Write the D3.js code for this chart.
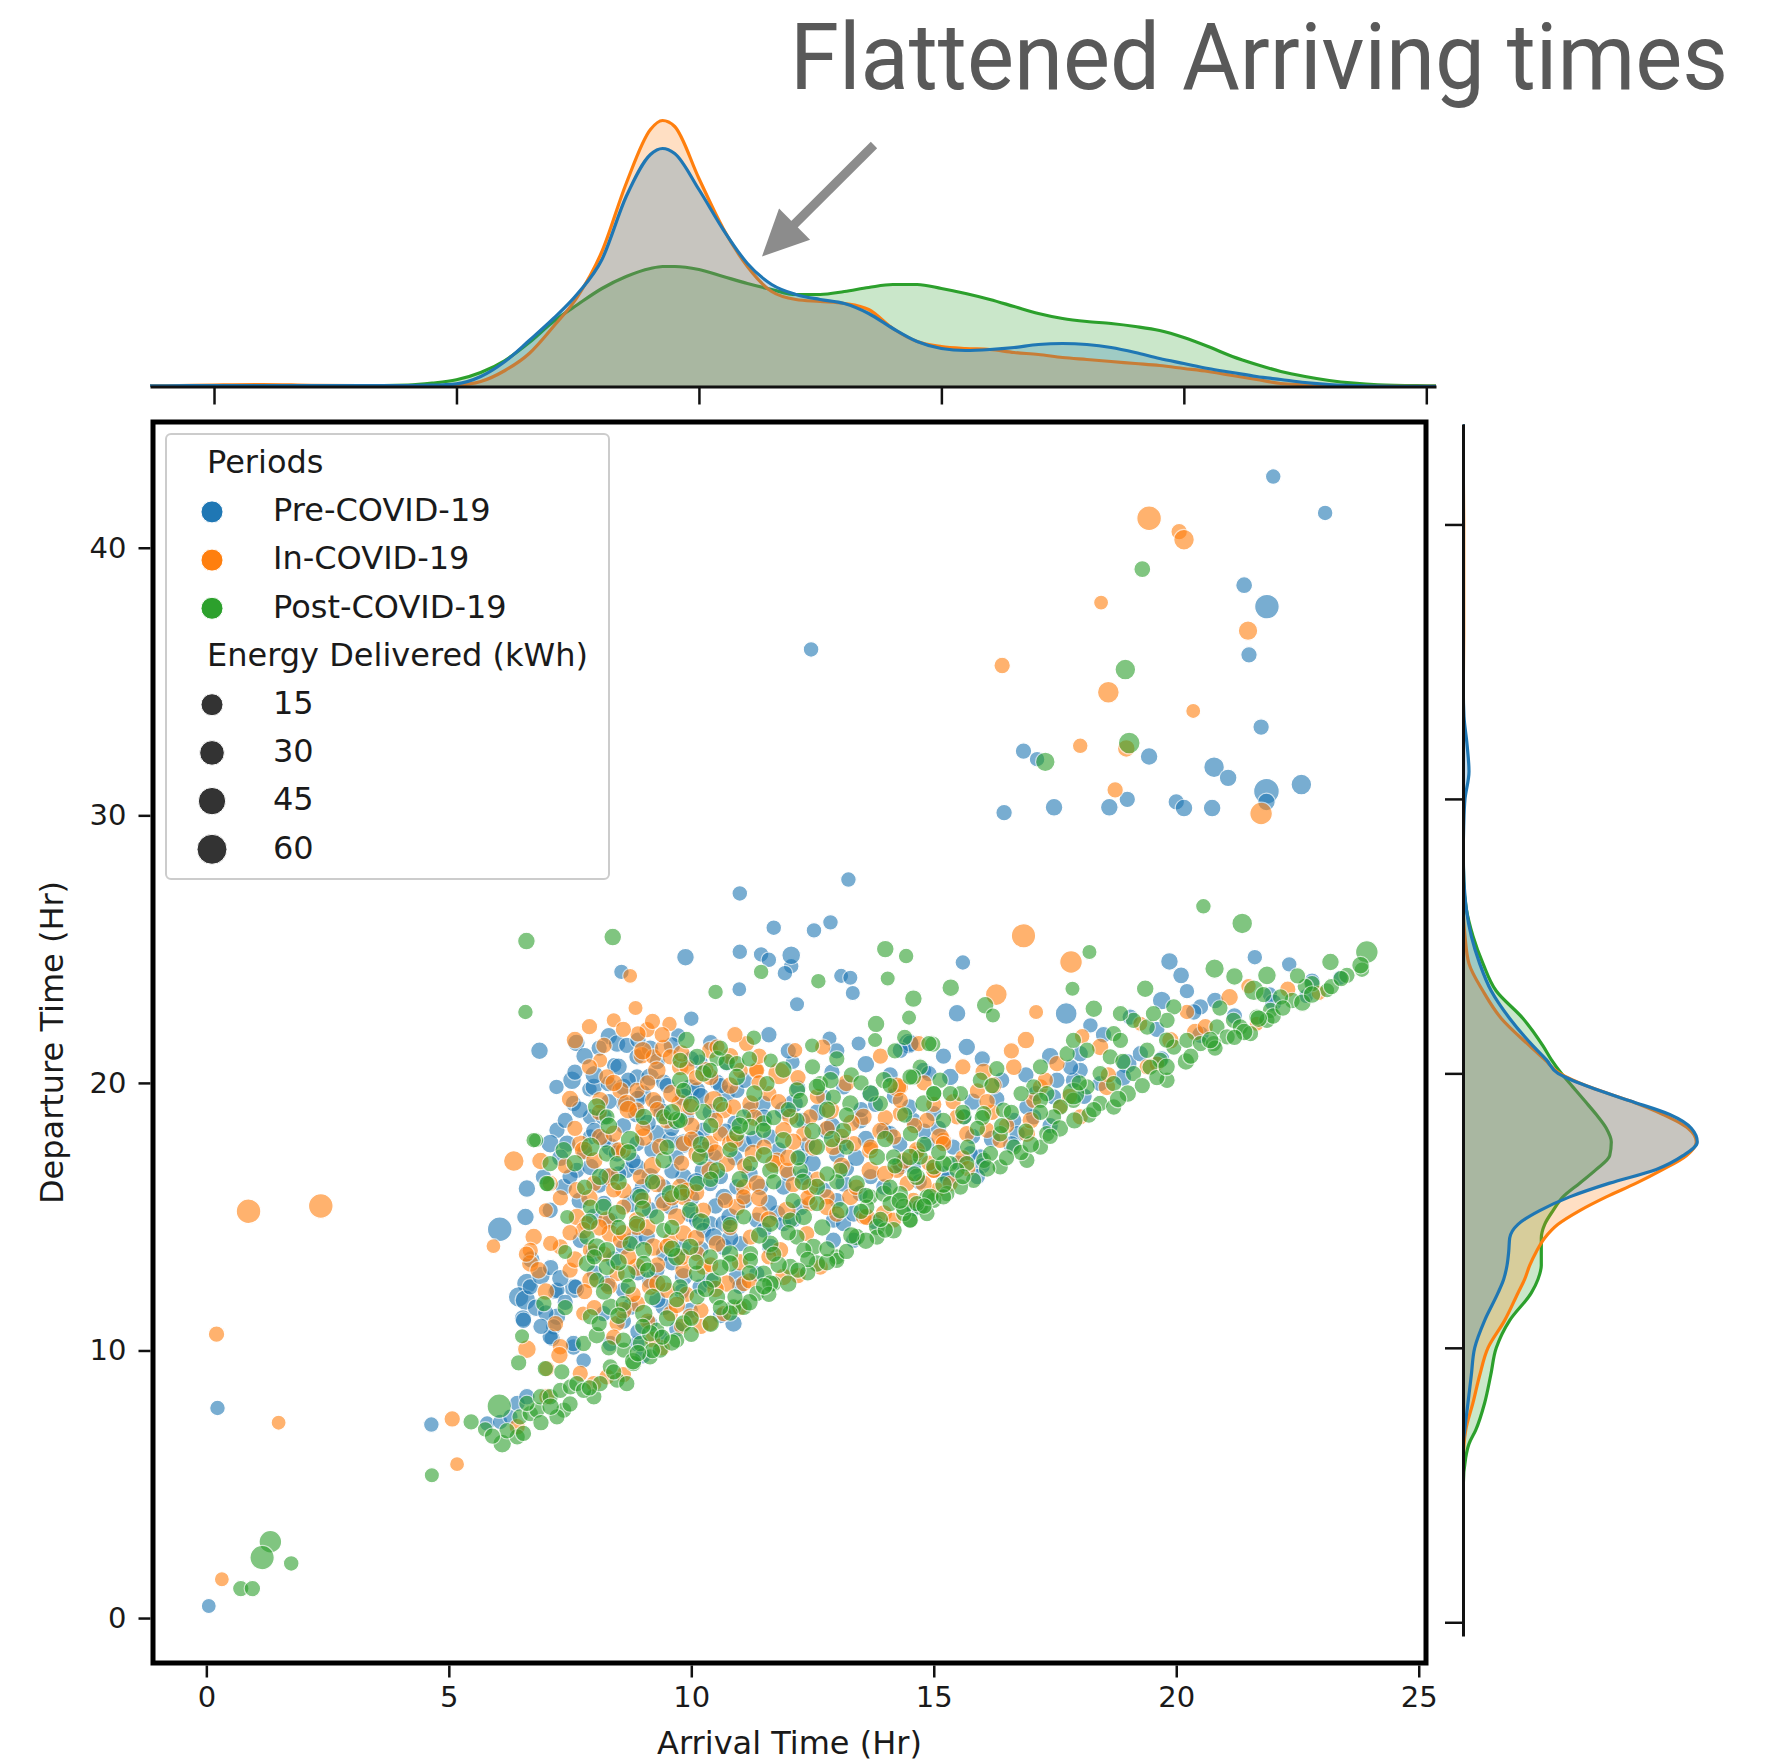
<!DOCTYPE html>
<html>
<head>
<meta charset="utf-8">
<script src="https://cdn.jsdelivr.net/npm/d3@7"></script>
<style>
  body { margin: 0; background: #fff; }
  svg { display: block; }
</style>
</head>
<body>
<script>
// ---- data ----
const periods = ["Pre-COVID-19", "In-COVID-19", "Post-COVID-19"];
const periodColors = ["#1f77b4", "#ff7f0e", "#2ca02c"];
const sizeLegendValues = [15, 30, 45, 60];
const xTickValues = [0, 5, 10, 15, 20, 25];
const yTickValues = [0, 10, 20, 30, 40];
const titleText = "Flattened Arriving times";

// [arrival hr, departure hr, energy kWh]
const prePoints = [
  [0.05,0.45,5],[0.23,7.85,8],[4.64,7.23,8],
  [22.0,42.66,8],[23.07,41.3,8],[21.4,38.6,14],[21.87,37.8,62],[21.5,36.0,12],[21.75,33.3,12],[16.85,32.4,12],
  [17.13,32.1,8],[19.44,32.2,18],[20.78,31.8,35],[21.07,31.4,18],[21.86,30.9,70],[22.58,31.15,35],[18.99,30.6,12],
  [16.45,30.1,12],[17.48,30.3,18],[18.62,30.3,18],[20.0,30.5,12],[20.16,30.27,18],[20.74,30.27,18],[21.86,30.5,18],
  [12.47,36.2,8],[11.0,27.08,8],[13.24,27.6,8],[11.7,25.8,8],[12.53,25.7,8],[12.87,26.0,8],[12.06,24.36,8],
  [9.88,24.7,18],[11.0,24.9,8],[11.44,24.8,8],[11.6,24.6,8],[12.06,24.77,24],[11.93,24.1,8],[8.56,24.15,8],
  [10.99,23.5,5],[13.09,24.0,6],[13.28,23.93,6],[13.33,23.36,6],[12.18,22.94,6],[15.6,24.5,8],[15.48,22.6,18],
  [12.85,21.66,6],[13.45,21.47,6],[14.48,21.47,35],[10.0,22.4,8],[9.73,21.78,6],[8.3,21.74,18],[7.63,21.49,18],
  [6.87,21.2,18],[12.09,20.78,6],[7.54,20.1,24],[7.22,19.85,8],[7.9,19.76,8],[7.57,19.23,12],[8.41,20.66,8],
  [6.61,16.05,18],[6.58,14.99,18],[6.05,14.53,62],[6.61,12.5,35],[6.44,12.0,35],[6.58,11.88,35],[7.2,12.19,8],
  [7.59,12.32,35],[7.23,11.26,18],[6.53,11.2,18],[6.68,12.38,12],[7.23,12.25,12],[7.61,12.38,8],[6.54,11.13,12],
  [7.16,10.88,12],[7.13,10.45,12],[7.57,10.13,12],[7.78,9.63,8],[5.79,7.27,8],[6.06,7.33,8],[6.27,7.52,8],
  [6.41,8.02,12],[6.61,8.27,12],
  [19.86,24.54,18],[20.1,24.02,14],[20.22,23.43,8],[19.7,23.08,24],[21.62,24.7,8],[22.33,24.43,8],[21.93,23.3,8],
  [23.38,23.93,6],[22.68,23.25,6],[20.8,23.08,14],[20.5,22.84,12],[20.36,22.65,12],[19.05,22.46,12],[18.98,20.72,35],
  [19.26,21.09,12],[18.43,19.97,12],[18.02,20.47,12],[17.88,20.1,12],[17.47,19.48,12],[17.06,18.73,12],[16.65,18.6,12],
  [16.92,19.1,12],[16.72,18.1,12],[18.02,21.09,12],[17.82,20.59,12],[17.54,20.1,12],[15.68,21.34,18],[15.34,20.22,18],
  [14.79,20.47,12],[14.9,20.35,12],[14.52,21.47,18],[14.31,21.22,12],[15.0,18.85,12],[15.62,18.73,12],[14.58,18.6,12],
  [14.31,16.86,12],[14.58,16.86,12],[15.2,16.61,12],[15.96,17.23,12],[15.75,17.36,12],[17.73,22.59,42],[18.23,22.15,8],
  [8.47,21.47,18],[8.67,21.4,12],[8.88,20.97,12],[9.15,21.28,18],[10.18,20.78,12],[10.73,20.72,8],
  [7.99,19.85,18],[8.29,19.97,12],[8.6,19.85,18],[8.88,20.22,12],[9.15,20.22,24],[9.43,20.03,12],[9.98,19.79,30],
  [10.12,19.72,18],[10.53,20.03,12],[10.73,19.6,18],[10.94,19.72,12],
  [7.92,18.73,12],[8.19,18.73,18],[8.6,19.23,12],[8.88,18.85,24],[9.29,19.23,18],[9.84,19.47,24],[11.22,18.98,18],
  [11.49,19.23,12],[11.9,18.98,24],[12.11,19.23,30],[12.73,19.47,12],[13.14,19.85,12],[13.69,19.6,18],
  [7.23,18.23,12],[7.09,17.73,24],[7.44,17.73,18],[7.92,17.98,12],[8.33,17.61,24],[8.47,17.36,18],[8.88,17.73,12],
  [9.29,18.1,24],[9.57,17.86,18],[9.84,17.73,30],[10.25,18.23,12],[10.46,17.23,18],[11.08,17.73,18],[11.63,17.98,12],
  [12.25,17.23,18],[12.8,18.23,24],[13.14,17.73,12],[13.48,18.6,18],[13.97,18.23,12],[14.1,18.1,12],[14.86,17.73,12],
  [6.95,16.49,12],[7.37,16.11,18],[7.64,16.73,12],[7.92,16.86,18],[8.26,16.49,24],[8.67,16.73,12],[8.88,16.86,18],
  [9.15,16.49,24],[9.43,16.11,12],[9.84,16.49,18],[10.25,16.73,24],[10.39,16.24,12],[10.67,15.74,18],[10.94,16.11,12],
  [11.42,16.11,18],[11.9,16.11,12],[12.32,16.49,18],[12.73,15.99,12],[13.14,16.24,18],[13.48,15.86,12],[13.97,16.11,12],
  [14.31,16.98,18],
  [7.09,15.24,12],[7.99,14.99,18],[8.33,14.87,12],[8.74,15.49,24],[9.15,15.24,18],[9.57,15.36,12],[9.98,15.12,24],
  [10.12,14.87,18],[10.39,14.74,12],[10.67,14.74,18],[10.8,14.99,24],[11.35,14.87,12],[11.77,15.12,18],[11.9,14.74,12],
  [12.25,15.36,18],[12.93,14.87,12],[13.14,14.74,12],[13.35,15.12,18],
  [7.71,14.12,12],[7.99,13.62,18],[8.6,13.87,12],[8.81,14.12,24],[9.08,14.24,18],[9.43,13.62,12],[9.84,13.87,18],
  [10.25,14.49,12],[10.46,14.24,24],[10.67,13.87,18],[11.01,13.99,12],[11.63,13.87,18],[12.93,14.12,12],[13.35,14.12,12],
  [8.26,12.5,18],[8.6,12.25,12],[9.15,12.63,18],[9.29,13.0,12],[9.84,12.75,24],[10.18,12.38,12],[10.94,12.75,18],
  [11.35,12.87,12],
  [8.19,11.38,12],[8.74,11.63,18],[9.15,11.01,12],[9.43,11.63,18],[9.98,11.5,12],[10.87,11.01,18],
  [7.09,10.51,12],[7.57,10.26,12],[8.33,10.26,12],[8.88,10.26,12],[9.36,10.51,8],[9.0,9.8,12],[10.6,11.3,12],
  [7.8,21.0,18],[8.1,21.3,12],[8.5,20.6,18],[8.9,21.6,12],[9.3,20.8,12],[9.6,21.4,18],[10.0,20.9,12],[10.4,21.5,12],
  [7.6,20.4,12],[8.0,20.3,24],[8.7,20.1,12],[9.0,19.6,18],[9.5,19.9,12],[10.2,19.5,18],[10.6,19.9,12],[11.1,20.1,12],
  [7.7,19.0,18],[8.3,19.3,12],[8.9,19.4,18],[9.4,18.9,24],[9.9,18.7,12],[10.4,18.9,18],[10.9,18.5,12],[11.5,18.7,18],
  [7.4,18.6,12],[8.0,18.2,18],[8.6,18.4,12],[9.1,18.5,18],[9.6,18.3,12],[10.1,17.9,24],[10.7,18.2,12],[11.3,17.9,18],
  [7.3,17.2,18],[7.8,17.4,12],[8.2,17.9,18],[8.8,17.1,12],[9.2,17.5,18],[9.7,17.2,12],[10.3,17.5,18],[10.9,17.2,12],
  [7.5,16.5,12],[8.1,16.2,18],[8.5,16.6,12],[9.0,16.1,18],[9.6,16.7,12],[10.1,16.3,24],[10.6,16.5,12],[11.2,16.6,18],
  [7.7,15.6,18],[8.2,15.5,12],[8.9,15.8,18],[9.4,15.6,12],[10.0,15.7,18],[10.5,15.4,12],[11.1,15.6,12],[11.6,15.5,18],
  [12.0,16.6,12],[12.5,17.0,18],[13.0,17.3,12],[13.6,17.9,18],[12.3,18.6,12],[12.9,18.4,18],[11.8,17.5,12],[13.2,16.8,12],
  [6.7,13.4,18],[6.9,12.8,24],[7.1,13.1,12],[6.8,11.6,18],[7.4,11.8,12],[7.0,11.4,12],[7.3,12.7,18],[6.9,10.9,12],
  [8.0,12.9,12],[8.4,13.4,18],[8.9,12.9,12],[9.6,13.3,18],[10.2,13.8,12],[10.8,14.2,18],[11.5,14.5,12],[12.1,14.9,18],
  [8.6,11.1,12],[9.3,11.9,18],[9.8,12.2,12],[10.4,12.6,18],[11.0,12.4,12],[8.9,10.7,12],[9.7,10.8,12],
  [13.8,14.8,12],[14.6,15.3,12],[15.3,16.4,18],[16.0,16.9,12],[16.6,17.7,18],[17.4,18.4,12],[18.1,19.5,12],[18.9,20.2,18],
  [19.7,20.9,12],[20.5,21.8,18],[21.2,22.5,12],[22.0,23.0,18],[22.8,23.8,12],[15.8,18.0,12],[16.3,19.4,12],[16.9,20.3,12],
  [17.4,21.0,18],[18.5,21.8,12],[19.6,22.0,12],[13.5,19.0,12],[14.2,19.5,18],[14.8,18.2,12],[15.4,17.6,12],[15.9,16.5,12],
  [12.2,19.8,12],[12.9,20.4,12],[13.6,20.7,18],[14.1,20.3,12],[12.6,18.9,18],[13.8,19.2,12],[14.5,19.1,12],[12.4,17.7,12],
  [13.4,17.2,18],[14.3,17.7,12],[15.1,18.3,12],[15.8,19.3,18],[16.4,20.1,12],[13.0,15.6,12],[13.7,16.5,12],[14.7,16.3,12],
  [15.5,17.0,12],[16.2,17.9,18],[17.1,19.6,12],[16.0,20.9,12],[15.2,21.0,12],[12.0,21.2,12],[11.6,21.8,12],[13.0,21.2,12]
];

const inPoints = [
  [0.87,15.2,62],[2.36,15.4,62],[0.21,10.61,12],[1.49,7.3,5],[0.32,1.45,5],[5.07,7.44,12],[5.17,5.75,5],
  [19.44,41.1,62],[20.06,40.6,12],[20.16,40.3,35],[18.45,37.95,5],[21.48,36.9,28],[16.41,35.6,12],[18.6,34.6,42],
  [20.35,33.9,5],[18.02,32.6,8],[18.97,32.5,18],[18.74,30.95,12],[21.75,30.07,48],[16.85,25.5,60],[17.83,24.52,48],
  [16.29,23.3,42],[17.11,22.65,6],[18.06,21.74,8],[21.49,23.61,8],[22.94,23.36,6],[20.22,22.65,8],[20.39,21.9,18],
  [21.66,22.21,6],[19.26,22.21,6],[18.43,21.34,18],[19.6,20.72,8],[19.88,21.59,18],[18.57,19.85,18],[17.61,19.1,8],
  [18.02,18.73,12],[16.92,18.1,18],[17.2,19.85,12],[17.06,19.35,12],[17.54,20.72,12],[16.65,20.59,14],[16.03,20.41,18],
  [16.23,19.91,18],[14.31,19.85,12],[14.31,18.85,12],[14.69,21.47,12],[15.48,18.73,12],[14.86,18.6,12],[15.2,17.85,12],
  [15.68,18.1,12],[16.1,18.23,12],[16.37,17.85,12],[15.0,16.73,12],[14.45,16.24,12],[14.58,15.61,12],[15.07,15.99,12],
  [15.34,16.24,12],[14.65,17.36,12],
  [8.74,24.0,5],[8.85,22.8,6],[8.4,22.34,6],[9.55,22.2,8],[9.09,21.99,12],[8.9,21.83,12],[11.14,21.47,12],
  [12.14,21.22,8],[12.71,21.34,12],[8.12,20.84,6],[11.81,20.35,48],[11.33,20.47,12],[6.34,17.08,35],[6.89,17.08,18],
  [5.92,13.9,5],[7.0,15.24,6],[6.75,14.24,18],[6.68,13.74,12],[6.68,13.25,18],[6.85,13.0,18],[7.77,11.38,6],
  [6.61,10.05,24],[7.3,10.14,12],[7.28,9.82,18],[7.02,9.32,12],[6.41,7.15,12],[7.02,8.27,12],[7.71,9.14,12],
  [7.99,8.76,12],[8.26,9.01,12],[8.6,9.1,12],[9.4,10.1,12],[10.2,10.9,12],[11.0,11.6,12],[12.2,12.8,12],
  [8.98,21.03,18],[9.22,20.97,12],[9.43,21.28,24],[9.57,20.97,12],[10.39,21.22,18],[10.53,21.34,12],
  [8.26,20.22,12],[8.54,19.72,18],[8.88,19.72,12],[9.29,20.47,24],[9.77,20.59,18],[9.91,20.59,12],[10.39,20.22,18],
  [11.01,20.47,12],[11.35,20.47,12],
  [8.12,19.35,18],[8.67,19.23,24],[8.88,18.98,12],[9.22,19.35,18],[9.77,19.23,24],[9.98,19.1,18],[10.46,19.35,30],
  [10.67,18.98,18],[10.87,19.1,12],[11.22,19.23,18],[12.04,18.73,18],[12.45,18.73,12],[12.87,18.98,24],[13.55,18.73,18],
  [14.24,19.85,30],[14.31,19.35,12],
  [7.71,17.73,18],[7.78,17.48,24],[8.12,17.98,18],[8.6,17.48,12],[9.02,17.98,24],[9.36,17.61,18],[9.84,17.73,12],
  [10.12,17.36,24],[10.39,17.73,18],[10.6,18.1,12],[10.8,17.73,18],[11.28,17.36,24],[11.77,17.11,12],[11.9,18.23,18],
  [12.32,18.1,12],[12.52,17.61,24],[12.93,17.61,18],[13.35,17.73,12],[13.69,17.48,18],[14.17,17.98,12],[14.65,17.48,18],
  [15.13,17.98,24],[15.2,17.73,12],
  [7.09,16.24,12],[7.64,15.99,18],[7.99,16.24,12],[8.33,16.49,24],[8.6,15.99,18],[8.95,16.49,12],[9.29,16.24,24],
  [9.77,16.11,18],[9.91,15.99,12],[10.39,16.73,24],[10.73,16.98,18],[11.08,16.11,12],[11.35,16.24,18],[11.7,16.98,24],
  [11.97,16.73,12],[12.45,16.11,18],[12.8,15.74,12],[13.28,15.74,18],[13.69,16.73,24],[14.24,16.73,12],[14.79,16.24,18],
  [15.0,16.73,12],
  [7.64,14.99,18],[7.85,14.74,12],[8.26,14.87,24],[8.6,15.36,12],[8.88,14.87,18],[9.43,15.49,12],[9.7,14.99,24],
  [9.84,15.74,18],[10.25,15.24,12],[10.94,15.36,18],[11.08,15.74,12],[11.42,15.12,18],[11.97,15.24,24],[12.45,15.49,12],
  [12.8,15.36,18],[13.55,14.99,12],[13.97,15.12,18],[14.17,14.87,12],
  [7.3,13.87,12],[7.78,14.49,18],[7.92,13.75,12],[8.33,14.37,24],[8.54,14.12,12],[8.88,14.62,18],[9.22,13.87,24],
  [9.57,14.12,12],[9.84,14.37,18],[10.12,13.62,12],[10.53,13.99,18],[11.22,14.24,12],[11.83,13.75,18],[12.38,14.37,12],
  [13.62,14.99,18],
  [7.5,13.0,12],[7.92,12.63,18],[8.47,12.87,12],[8.88,13.12,24],[9.15,12.38,18],[9.5,12.25,12],[9.84,13.0,18],
  [10.25,13.12,12],[10.73,12.5,18],[11.08,12.5,12],[11.9,12.75,18],[12.66,13.12,12],
  [8.47,11.01,12],[8.88,11.75,18],[9.57,11.38,12],[9.98,11.26,18],[10.39,11.01,12],[10.67,11.38,12],
  [7.6,21.6,18],[8.2,21.4,12],[8.6,22.0,12],[9.0,21.2,24],[9.4,21.8,12],[9.8,21.1,18],[10.3,20.5,12],[10.8,21.0,18],[11.4,21.0,12],
  [7.9,20.6,12],[8.4,20.0,18],[9.1,20.0,12],[9.6,19.6,24],[10.1,20.2,12],[10.8,19.9,18],[11.6,19.6,12],[12.2,20.2,12],
  [7.5,19.4,18],[8.1,18.9,12],[8.7,19.0,24],[9.3,19.0,12],[10.0,18.4,18],[10.5,18.6,12],[11.3,18.7,18],[11.8,19.3,12],
  [7.6,18.3,12],[8.4,18.1,18],[9.0,18.3,12],[9.5,18.6,18],[10.0,17.9,12],[10.9,17.9,24],[11.5,17.6,12],[12.1,17.8,18],
  [7.4,16.9,12],[8.0,17.1,18],[8.5,17.5,12],[9.2,16.9,24],[9.8,17.0,12],[10.5,17.4,18],[11.1,16.9,12],[12.0,17.2,18],
  [7.3,15.7,12],[7.9,15.7,18],[8.4,16.0,12],[9.0,15.6,18],[9.6,15.7,12],[10.1,15.9,18],[10.7,15.6,12],[11.4,15.7,18],
  [7.5,14.4,12],[8.1,14.6,18],[8.6,14.4,12],[9.1,14.6,18],[9.5,13.9,12],[10.1,14.2,18],[10.8,14.6,12],[11.6,14.9,18],
  [7.6,13.4,18],[8.2,13.6,12],[8.7,13.5,18],[9.3,13.2,12],[9.8,13.5,18],[10.4,13.2,12],[11.0,13.3,18],[11.6,13.5,12],
  [7.8,12.2,12],[8.3,12.4,18],[8.8,12.1,12],[9.3,12.5,18],[9.9,12.1,12],[10.5,12.3,18],[11.2,12.6,12],
  [8.0,11.6,12],[8.6,11.5,18],[9.1,11.1,12],[9.7,11.7,18],[10.2,11.5,12],[8.4,10.5,12],[9.2,10.4,12],[9.8,10.9,12],
  [7.1,14.0,12],[7.0,12.2,18],[7.2,11.0,12],[6.6,13.6,12],
  [12.6,16.4,12],[13.1,16.9,18],[13.7,17.6,12],[12.8,18.3,12],[13.3,18.5,18],[14.0,18.7,12],[12.4,15.7,12],[13.0,15.1,12],[14.4,17.1,18],
  [15.6,17.2,12],[16.2,18.9,12],[17.0,18.6,18],[17.8,19.5,12],[18.6,20.3,12],[19.4,20.6,12],[20.6,22.1,12],[21.1,23.2,18],[22.3,23.5,12],
  [15.0,19.2,12],[15.9,19.7,12],[16.6,21.2,12],
  [12.6,19.5,12],[13.2,20.0,18],[13.9,21.0,12],[14.8,20.0,12],[13.1,18.0,12],[13.9,18.2,18],[14.6,18.4,12],[15.4,19.3,12],
  [16.1,19.3,12],[13.4,16.1,12],[14.0,16.6,18],[14.9,17.0,12],[15.7,16.8,12],[16.5,18.4,12],[17.3,20.1,12],[16.9,21.6,18],
  [15.6,20.6,12],[12.1,16.2,12],[11.4,20.0,12],[10.9,21.8,12],[7.9,22.1,12],[9.2,22.3,12]
];

const postPoints = [
  [1.32,2.85,48],[1.15,2.26,60],[1.75,2.04,8],[0.71,1.1,12],[0.95,1.1,12],[4.65,5.34,6],[5.46,7.33,12],
  [19.3,39.2,14],[18.95,35.45,35],[19.03,32.7,42],[17.3,32.0,28],[20.56,26.6,8],[21.36,25.96,35],
  [6.6,25.3,18],[8.38,25.45,18],[11.44,24.15,8],[6.58,22.65,8],[10.5,23.4,8],[12.62,23.8,8],[14.0,25.0,18],
  [14.43,24.74,8],[14.05,23.9,6],[15.35,23.56,18],[14.58,23.15,18],[13.81,22.2,18],[14.49,22.44,6],[13.79,21.6,6],
  [12.49,21.4,6],[14.4,21.7,12],[14.98,21.45,12],[14.2,21.2,12],[11.29,21.69,8],[11.64,20.84,6],[6.8,17.86,6],
  [7.44,14.99,6],[7.4,13.68,6],[6.51,10.53,6],
  [18.21,24.89,6],[16.06,22.9,18],[16.22,22.52,6],[17.86,23.52,6],[18.3,22.77,18],[19.36,23.52,18],[20.79,24.27,28],
  [21.2,23.98,18],[21.87,24.02,24],[21.6,23.46,35],[23.18,24.52,18],[23.93,24.89,48],[23.83,24.23,8],[23.52,24.02,12],
  [23.11,23.46,6],[22.8,23.71,12],[22.66,23.61,12],[22.39,23.08,12],[22.15,23.21,12],[21.94,22.71,12],[21.87,22.34,12],
  [19.95,22.84,12],[19.81,22.34,12],[20.84,22.09,12],[21.18,22.34,12],[21.32,22.09,12],[21.05,21.72,12],[21.53,21.84,12],
  [21.66,22.46,12],[19.12,22.34,12],[19.4,22.09,12],[19.53,22.59,12],[18.85,22.59,12],[18.71,21.84,12],[18.85,21.59,12],
  [19.12,20.35,12],[19.4,21.22,12],[19.67,20.84,12],[19.95,21.34,12],[20.22,21.59,12],[20.5,21.47,12],[20.77,21.47,12],
  [19.81,20.1,12],[19.46,20.59,12],[18.64,20.97,12],[18.43,20.35,12],[18.71,19.97,12],[18.16,19.85,12],[17.88,19.35,12],
  [18.43,19.23,12],[18.71,19.1,12],[17.88,19.6,48],[17.61,19.1,12],[17.47,18.73,12],[17.33,18.1,12],[17.2,17.6,12],
  [16.92,17.11,12],[16.65,17.6,12],[16.37,18.1,12],[17.06,19.85,12],[17.33,19.6,12],[17.2,19.35,12],[17.75,21.09,12],
  [18.16,21.22,12],[17.88,21.59,12],[16.3,20.53,12],[15.96,20.1,12],[15.55,19.6,12],[15.13,20.1,12],[15.0,19.6,12],
  [14.72,20.59,12],[14.58,20.22,12],[14.9,21.47,12],[15.34,19.6,12],[15.62,18.73,12],[16.03,18.85,12],[16.44,18.98,12],
  [14.52,18.1,12],[14.72,17.23,12],[15.0,16.86,12],[15.34,16.98,12],[15.68,16.98,12],[16.03,17.11,12],[16.17,17.36,12],
  [16.37,16.86,12],[15.82,16.36,12],[15.55,16.11,12],[15.27,15.86,12],[15.0,15.61,12],[14.72,15.36,12],[14.52,14.87,12],
  [14.38,15.12,12],[14.86,15.12,12],
  [6.04,7.92,60],[5.75,7.05,8],[6.1,6.52,24],[6.41,6.77,12],[6.54,6.9,12],[6.47,7.52,12],[6.68,7.64,12],
  [6.82,7.77,12],[6.61,8.02,12],[6.89,8.27,12],[7.09,8.27,12],[7.3,8.51,12],[7.51,8.64,12],[7.37,7.77,12],
  [7.64,8.76,12],[7.23,7.52,12],[7.99,8.27,12],[8.12,8.76,12],[7.78,8.51,12],[8.47,8.89,12],[8.67,8.76,12],
  [8.33,9.39,12],[8.81,9.51,12],[8.61,10.01,12],[9.15,9.76,12],[9.36,10.01,12],[8.95,10.26,12],[7.04,16.23,12],
  [6.44,9.54,12],[6.99,9.32,12],[7.33,9.2,12],[6.96,11.75,12],
  [9.77,20.84,12],[10.12,20.97,18],[10.53,20.91,12],[10.73,20.78,18],[10.94,20.72,12],
  [9.77,20.1,18],[9.84,19.72,12],[10.25,20.35,18],[10.39,20.47,12],[10.94,20.22,18],[11.56,19.97,12],[12.18,19.72,18],
  [12.66,19.97,12],[12.87,20.1,18],
  [8.05,19.1,24],[8.26,18.73,12],[9.02,18.73,18],[9.43,18.73,12],[9.7,18.6,24],[10.25,18.91,18],[11.08,18.73,12],
  [11.49,18.48,18],[12.25,19.35,12],[12.59,19.85,18],[12.93,19.47,12],[13.28,19.23,18],[13.9,19.23,12],[13.97,20.1,18],
  [14.51,20.22,12],[14.79,19.23,18],[15.0,19.6,12],
  [6.75,17.86,8],[7.09,16.98,12],[7.37,17.48,18],[7.92,17.61,30],[8.26,17.36,18],[8.74,17.86,30],[9.43,17.11,18],
  [9.77,18.6,12],[10.18,17.23,18],[10.94,18.1,12],[11.22,18.35,18],[11.49,18.23,12],[11.9,17.86,18],[12.18,18.6,12],
  [12.59,17.61,18],[13.14,18.23,12],[13.83,17.23,18],[14.17,17.23,12],[14.51,17.23,18],
  [7.02,16.24,12],[8.12,16.49,18],[8.47,16.98,12],[8.95,15.74,18],[9.57,15.86,24],[10.12,16.24,12],[10.53,16.73,18],
  [11.22,16.98,12],[11.63,16.73,18],[12.25,16.73,12],[12.59,16.11,18],[13.07,16.73,12],[13.41,16.24,18],[13.69,15.74,12],
  [13.97,15.86,18],[14.31,15.86,12],[14.65,16.49,18],[14.86,15.74,12],[15.2,16.98,18],[15.48,16.73,12],
  [7.92,15.36,12],[8.19,15.36,18],[8.47,15.12,24],[8.88,14.74,18],[9.29,14.99,12],[9.98,15.24,18],[11.08,14.99,12],
  [11.63,14.74,18],[12.04,14.87,12],[12.32,14.99,18],[12.59,15.49,12],[13.07,15.24,18],[13.62,15.36,12],[13.83,14.62,18],
  [14.1,15.49,12],[14.38,15.36,18],[14.65,15.49,12],[14.93,15.74,18],[15.2,15.74,12],
  [7.85,14.24,12],[8.05,13.87,24],[8.26,13.75,18],[8.74,13.99,12],[9.02,13.75,18],[9.43,14.49,12],[9.7,13.5,24],
  [9.98,13.87,18],[10.39,13.5,12],[10.8,13.62,18],[11.22,13.62,12],[11.63,13.99,18],[12.18,14.24,12],[12.52,13.87,18],
  [13.0,13.5,12],[13.41,14.24,18],[13.83,14.24,12],[14.17,14.49,18],[14.51,14.87,12],
  [7.85,13.25,18],[8.05,12.63,12],[8.26,13.12,18],[8.67,12.87,24],[9.02,13.25,12],[9.43,12.5,18],[9.77,12.38,12],
  [10.12,12.87,18],[10.46,12.63,12],[10.8,13.25,18],[11.22,13.37,12],[11.49,12.87,18],[11.7,12.5,12],[12.04,13.12,18],
  [12.32,13.75,12],[12.59,13.25,18],[13.0,13.37,12],
  [7.92,11.26,12],[8.33,11.63,18],[8.6,11.75,12],[9.02,11.38,24],[9.29,10.76,12],[9.84,11.01,18],[10.12,12.0,12],
  [10.53,12.0,18],[10.87,11.63,12],[11.08,11.63,18],[11.35,12.13,12],[11.63,12.5,18],
  [7.78,10.26,12],[8.05,10.57,18],[8.6,10.39,12],[9.15,10.64,18],[9.7,10.39,12],
  [8.4,9.2,12],[8.8,9.6,18],[9.2,10.0,12],[9.6,10.3,18],[10.0,10.6,12],[10.4,11.0,18],[10.8,11.4,12],[11.2,11.8,18],
  [11.6,12.1,12],[12.0,12.5,18],[12.4,12.9,12],[12.8,13.3,18],[13.2,13.7,12],[13.6,14.1,18],[14.0,14.5,12],
  [16.8,17.4,12],[17.6,18.3,18],[18.2,18.8,12],[19.0,19.6,18],[19.6,20.2,12],[20.2,20.8,18],[20.8,21.3,12],
  [21.4,21.9,18],[22.0,22.5,12],[22.6,23.0,18],[23.2,23.6,12],
  [9.9,21.6,18],[10.6,21.3,12],[11.2,20.9,12],[11.9,20.5,18],[12.5,20.6,12],[13.3,20.3,12],
  [10.0,19.2,18],[10.6,19.2,12],[11.3,19.6,18],[12.0,19.0,12],[12.8,19.0,18],[13.5,20.0,12],
  [8.3,18.4,18],[9.6,18.9,18],[10.4,18.4,12],[11.0,18.4,18],[11.7,18.7,12],[12.5,18.2,18],[13.2,18.8,12],
  [7.6,17.0,18],[8.7,17.4,18],[9.5,17.6,12],[10.2,17.7,18],[10.8,17.5,12],[11.5,17.3,18],[12.2,17.2,12],[12.9,17.9,18],
  [7.8,16.1,12],[8.5,16.3,18],[9.2,16.3,12],[9.8,15.9,18],[10.4,16.4,12],[11.0,16.4,18],[11.7,16.3,12],[12.3,16.3,18],[13.0,16.3,12],
  [7.9,14.8,18],[8.5,14.6,12],[9.0,15.3,18],[9.6,14.6,12],[10.2,14.8,24],[10.8,14.7,12],[11.4,14.3,18],[12.0,14.4,12],[12.7,14.6,18],
  [8.0,13.5,12],[8.5,13.3,18],[9.1,13.0,12],[9.6,13.8,18],[10.1,13.3,12],[10.6,13.1,18],[11.2,12.9,12],[11.8,13.2,18],[12.4,13.4,12],
  [8.2,12.2,18],[8.7,12.4,12],[9.2,12.0,18],[9.7,11.9,12],[10.3,12.3,18],[10.9,12.0,12],[11.5,12.4,18],
  [8.1,11.0,12],[8.5,11.3,18],[9.0,10.9,12],[9.5,11.2,18],[10.0,11.2,12],[10.6,11.6,12],[8.3,10.1,12],[8.9,9.9,18],[9.4,10.5,12],[7.4,11.6,12],
  [13.3,14.3,18],[13.9,14.9,12],[14.3,15.6,18],[14.8,15.4,12],[15.2,16.2,18],[15.6,16.5,12],[16.1,16.8,18],[16.5,17.2,12],[17.0,17.7,18],
  [17.4,18.0,12],[17.9,18.6,18],[18.3,19.0,12],[18.8,19.4,18],[19.3,19.9,12],[19.8,20.6,18],[20.3,21.0,12],[20.7,21.6,18],[21.2,21.7,12],
  [21.7,22.4,18],[22.2,22.8,12],[22.8,23.3,18],[23.4,23.9,12],[23.8,24.4,18],[15.7,17.6,12],[16.4,18.4,12],[17.2,18.9,12],[18.0,20.0,12],
  [18.9,20.8,12],[19.8,21.6,12],[20.9,22.8,12],[21.8,23.3,12],[22.5,24.0,12],[14.6,16.6,12],[15.1,17.4,12],[16.0,18.7,12],[16.8,19.6,12],
  [13.6,15.8,12],[14.1,16.1,12],[12.8,13.8,12],[12.2,13.0,12],[11.7,13.6,12],[6.9,7.3,12],[7.5,8.0,12],[7.9,8.6,12],[6.2,7.0,12],
  [7.1,7.9,18],[5.9,6.8,12],
  [13.0,20.9,12],[13.7,19.6,18],[14.4,18.8,12],[14.1,19.9,12],[15.2,18.6,12],[15.9,18.3,12],[16.6,18.9,12],[17.2,20.6,12],
  [13.2,17.6,12],[14.0,17.9,18],[14.8,17.7,12],[15.6,18.9,12],[13.5,15.2,12],[14.2,16.9,12],[16.2,19.9,12],[16.9,18.2,12],
  [12.8,16.6,12],[12.1,15.6,12]
];

// marginal KDE of arrival time (density, arbitrary units)
const arrivalGrid = [-1.5,-1,0,1,2,3,4,4.5,5,5.5,6,6.5,7,7.5,8,8.5,9,9.25,9.5,10,10.5,11,11.5,12,12.5,13,13.5,14,14.5,15,15.5,16,16.5,17,17.5,18,18.5,19,19.5,20,20.5,21,21.5,22,22.5,23,23.5,24,25,26];
const arrivalPre = [0.7,0.7,1,1,1,1,1,1.3,2.7,10,25,46,68,93,127,190,232,238,233,197,157,123,102,92,87,83,73,58,45,38,36,37,39,42,43,42,39,34,28,23,18,14,10,7,4,2,1,0.3,0.2,0.1];
const arrivalIn = [0.5,0.7,1.5,2,1.2,0.8,0.7,0.7,1.3,5,16,33,60,90,135,203,257,266,260,208,158,120,95,87,85,83,77,58,45,40,38,37,34,32,29,27,25,23,21,18,15,11,7,3,1.7,0.7,0.3,0.2,0.1,0.1];
const arrivalPost = [0.3,0.3,0.5,0.5,0.5,0.5,1.3,3.3,6.7,14,26,44,65,82,98,110,118,120,120,117,110,103,97,92,92,95,99,102,102,98,93,87,80,73,68,65,63,60,56,49,40,30,22,15,10,6,3.3,1.7,0.7,0.3];

// marginal KDE of departure time (density, arbitrary units)
const departureGrid = [-1,0,2,4,5,6,6.5,7,8,9,10,11,12,12.5,13,13.5,14,14.5,15,15.5,16,16.5,17,17.5,18,18.5,19,19.5,20,20.5,21,22,23,24,25,26,27,28,29,30,31,32,33,34,36,38,40,42,44];
const departurePre = [0,0.2,0.2,0.2,0.2,0.3,0.3,1.7,5,8.3,11.7,21.7,35,40.7,44,45.7,46.7,55,76.7,106.7,146.7,193.3,220,234.3,228.3,206.7,166.7,126.7,95,83.3,70,46.7,28.3,16.7,8.3,3.3,1,0.3,0.7,2,6,4,1,0.3,0.3,0.3,0.3,0.2,0.1];
const departureIn = [0,0.1,0.1,0.1,0.2,0.3,1,2.7,10,16.7,25,41.7,55,61.7,66.7,73.3,81.7,95,116.7,143.3,173.3,200,223.3,233.3,225,200,166.7,126.7,96.7,81.7,66.7,38.3,20,6,2,0.3,0.3,0.3,0.3,0.3,0.3,0.3,0.3,0.3,0.7,0.7,0.7,0.3,0.2];
const departurePost = [0.2,0.3,0.3,0.3,0.3,2.7,6,12.7,21.7,27.7,33.3,46.7,68.3,75,78.3,78.3,78.3,81.7,90,100,116.7,133.3,146.7,148.3,143.3,133.3,121.7,110,98.3,88.3,80,60,33.3,20,10,3.3,0.7,0.3,0.2,0.2,0.2,0.2,0.2,0.2,0.2,0.2,0.2,0.2,0.2];

// annotation arrow in top-marginal coordinates [arrival, density]
const arrowFrom = [13.61, 241.5];
const arrowTo = [11.3, 130];

// ---- drawing ----
const W = 1777, H = 1764;
const FONT = '"DejaVu Sans", sans-serif';
const svg = d3.select("body").append("svg")
  .attr("width", W).attr("height", H)
  .style("font-family", FONT);

const x = d3.scaleLinear().domain([-1.1, 25.15]).range([153, 1426]);
const y = d3.scaleLinear().domain([-1.68, 44.7]).range([1663, 422]);
const area = d3.scaleLinear().domain([0, 70]).range([48, 165]);
const radius = e => Math.sqrt(area(e));

const xTop = d3.scaleLinear().domain([-1.32, 25.2]).range([150, 1436]);
const yTop = d3.scaleLinear().domain([0, 270]).range([386.5, 116.5]);
const yRight = d3.scaleLinear().domain([-0.5, 43.66]).range([1636, 424]);
const xRight = d3.scaleLinear().domain([0, 240]).range([1463, 1703]);

const defs = svg.append("defs");
defs.append("clipPath").attr("id", "clipTop").append("rect")
  .attr("x", xTop.range()[0]).attr("y", 0)
  .attr("width", xTop.range()[1] - xTop.range()[0]).attr("height", yTop(0));
defs.append("clipPath").attr("id", "clipRight").append("rect")
  .attr("x", xRight(0)).attr("y", yRight.range()[1])
  .attr("width", W - xRight(0)).attr("height", yRight.range()[0] - yRight.range()[1]);

// title
svg.append("text")
  .attr("x", 790).attr("y", 89)
  .attr("textLength", 938).attr("lengthAdjust", "spacingAndGlyphs")
  .style("font-family", 'Roboto, "Noto Sans", sans-serif')
  .style("font-size", "93px")
  .attr("fill", "#595959")
  .text(titleText);

// top marginal kde
const topSeries = [arrivalPost, arrivalIn, arrivalPre];
const topColors = [periodColors[2], periodColors[1], periodColors[0]];
const gTop = svg.append("g").attr("clip-path", "url(#clipTop)");
topSeries.forEach((vals, k) => {
  const pts = arrivalGrid.map((g, i) => [g, vals[i]]);
  gTop.append("path")
    .attr("d", d3.area().curve(d3.curveMonotoneX)
      .x(d => xTop(d[0])).y0(yTop(0)).y1(d => yTop(d[1]))(pts))
    .attr("fill", topColors[k]).attr("fill-opacity", 0.25);
  gTop.append("path")
    .attr("d", d3.line().curve(d3.curveMonotoneX)
      .x(d => xTop(d[0])).y(d => yTop(d[1]))(pts))
    .attr("fill", "none").attr("stroke", topColors[k]).attr("stroke-width", 3.2);
});
svg.append("g")
  .attr("transform", `translate(0,${yTop(0)})`)
  .call(d3.axisBottom(xTop).tickValues(xTickValues).tickSize(18).tickSizeOuter(0).tickFormat(""))
  .call(g => g.select(".domain").attr("stroke", "#111").attr("stroke-width", 3))
  .call(g => g.selectAll(".tick line").attr("stroke", "#111").attr("stroke-width", 2.5));

// right marginal kde
const rightSeries = [departurePost, departureIn, departurePre];
const gRight = svg.append("g").attr("clip-path", "url(#clipRight)");
rightSeries.forEach((vals, k) => {
  const pts = departureGrid.map((g, i) => [g, vals[i]]);
  gRight.append("path")
    .attr("d", d3.area().curve(d3.curveMonotoneY)
      .y(d => yRight(d[0])).x0(xRight(0)).x1(d => xRight(d[1]))(pts))
    .attr("fill", topColors[k]).attr("fill-opacity", 0.25);
  gRight.append("path")
    .attr("d", d3.line().curve(d3.curveMonotoneY)
      .y(d => yRight(d[0])).x(d => xRight(d[1]))(pts))
    .attr("fill", "none").attr("stroke", topColors[k]).attr("stroke-width", 3.2);
});
svg.append("g")
  .attr("transform", `translate(${xRight(0)},0)`)
  .call(d3.axisLeft(yRight).tickValues(yTickValues).tickSize(18).tickSizeOuter(0).tickFormat(""))
  .call(g => g.select(".domain").attr("stroke", "#111").attr("stroke-width", 3))
  .call(g => g.selectAll(".tick line").attr("stroke", "#111").attr("stroke-width", 2.5));

// arrow annotation
{
  const p0 = [xTop(arrowFrom[0]), yTop(arrowFrom[1])];
  const p1 = [xTop(arrowTo[0]), yTop(arrowTo[1])];
  const dx = p1[0] - p0[0], dy = p1[1] - p0[1];
  const len = Math.hypot(dx, dy);
  const ux = dx / len, uy = dy / len, nx = -uy, ny = ux;
  const headLen = 46, headHalf = 22;
  const base = [p1[0] - ux * headLen, p1[1] - uy * headLen];
  svg.append("line")
    .attr("x1", p0[0]).attr("y1", p0[1]).attr("x2", base[0] + ux * 2).attr("y2", base[1] + uy * 2)
    .attr("stroke", "#8c8c8c").attr("stroke-width", 9);
  svg.append("path")
    .attr("d", `M${p1[0]},${p1[1]}L${base[0] + nx * headHalf},${base[1] + ny * headHalf}L${base[0] - nx * headHalf},${base[1] - ny * headHalf}Z`)
    .attr("fill", "#8c8c8c");
}

// scatter
const gPts = svg.append("g");
[prePoints, inPoints, postPoints].forEach((pts, k) => {
  gPts.selectAll(null).data(pts).enter().append("circle")
    .attr("cx", d => x(d[0])).attr("cy", d => y(d[1]))
    .attr("r", d => radius(d[2]))
    .attr("fill", periodColors[k])
    .attr("stroke", "#fff").attr("stroke-width", 1.2)
    .attr("opacity", 0.6);
});

// main frame
svg.append("rect")
  .attr("x", x.range()[0]).attr("y", y.range()[1])
  .attr("width", x.range()[1] - x.range()[0]).attr("height", y.range()[0] - y.range()[1])
  .attr("fill", "none").attr("stroke", "#000").attr("stroke-width", 5);

// axes
const xAxis = svg.append("g")
  .attr("transform", `translate(0,${y.range()[0] + 2.5})`)
  .call(d3.axisBottom(x).tickValues(xTickValues).tickSize(12).tickSizeOuter(0).tickPadding(9));
const yAxis = svg.append("g")
  .attr("transform", `translate(${x.range()[0] - 2.5},0)`)
  .call(d3.axisLeft(y).tickValues(yTickValues).tickSize(12).tickSizeOuter(0).tickPadding(12));
[xAxis, yAxis].forEach(g => {
  g.select(".domain").remove();
  g.selectAll(".tick line").attr("stroke", "#111").attr("stroke-width", 2.5);
  g.selectAll(".tick text").attr("fill", "#1a1a1a")
    .style("font-family", FONT).style("font-size", "29px");
});

svg.append("text")
  .attr("x", (x.range()[0] + x.range()[1]) / 2).attr("y", 1754)
  .attr("text-anchor", "middle").attr("fill", "#1a1a1a")
  .style("font-size", "32px").text("Arrival Time (Hr)");
svg.append("text")
  .attr("transform", `translate(63,${(y.range()[0] + y.range()[1]) / 2}) rotate(-90)`)
  .attr("text-anchor", "middle").attr("fill", "#1a1a1a")
  .style("font-size", "32px").text("Departure Time (Hr)");

// legend
const lg = svg.append("g");
lg.append("rect")
  .attr("x", 166).attr("y", 434).attr("width", 443).attr("height", 445).attr("rx", 5)
  .attr("fill", "#fff").attr("fill-opacity", 0.8)
  .attr("stroke", "#cccccc").attr("stroke-width", 2);
const rowH = 48.2, firstBase = 473;
const legendRows = [{title: "Periods"}]
  .concat(periods.map((p, i) => ({label: p, color: periodColors[i], r: 11})))
  .concat([{title: "Energy Delivered (kWh)"}]);
const legendR = d3.scaleLinear().domain([15, 60]).range([11, 15]);
sizeLegendValues.forEach(v => legendRows.push({label: String(v), color: "#333333", r: legendR(v)}));
legendRows.forEach((row, i) => {
  const base = firstBase + i * rowH;
  if (row.title) {
    lg.append("text").attr("x", 207).attr("y", base).attr("fill", "#1a1a1a")
      .style("font-size", "32px").text(row.title);
  } else {
    lg.append("circle").attr("cx", 212).attr("cy", base - 9.3).attr("r", row.r)
      .attr("fill", row.color).attr("stroke", "#fff").attr("stroke-width", 1);
    lg.append("text").attr("x", 273).attr("y", base).attr("fill", "#1a1a1a")
      .style("font-size", "32px").text(row.label);
  }
});
</script>
</body>
</html>
